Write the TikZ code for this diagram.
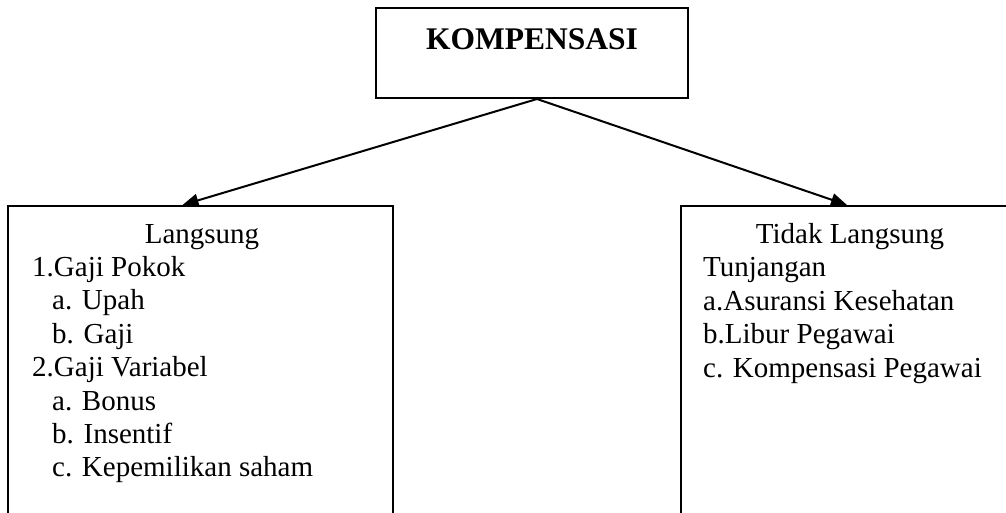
\documentclass[tikz,border=0pt]{standalone}
\usepackage{fontspec}
\setmainfont{Liberation Serif}
\usetikzlibrary{arrows.meta, positioning, calc}
\tikzset{
  box/.style={rectangle, draw=black, line width=2pt, inner sep=0pt},
  head/.style={anchor=base, inner sep=0pt, font=\fontsize{29}{33.5}\selectfont},
  item/.style={anchor=base west, inner sep=0pt, font=\fontsize{29}{33.5}\selectfont},
  arrow/.style={-{Triangle[length=16pt, width=13pt]}, line width=2pt}
}

\begin{document}
\begin{tikzpicture}[x=1pt, y=-1pt]
  \useasboundingbox (0,0) rectangle (1006,512);
  \clip (0,0) rectangle (1006,512);

  % Boxes
  \node[box, minimum width=312pt, minimum height=90pt] (komp) at (532,53) {};
  \node[box, minimum width=385pt, minimum height=330pt] (langsung) at (200.5,371) {};
  \node[box, minimum width=329pt, minimum height=330pt] (tidak) at (845.5,371) {};

  % Title
  \node[head, font=\bfseries\fontsize{31.5}{36}\selectfont] (kompT) at (532,49) {KOMPENSASI};

  % Langsung
  \node[head] (langT) at (202,243) {Langsung};
  \foreach \txt/\x [count=\i] in {1.Gaji Pokok/32, a. Upah/52, b. Gaji/52,
      2.Gaji Variabel/32, a. Bonus/52, b. Insentif/52, c. Kepemilikan saham/52}
    \node[item] (lang\i) at (\x,243+33.4*\i) {\txt};

  % Tidak Langsung
  \node[head] (tidakT) at (850,243) {Tidak Langsung};
  \foreach \txt [count=\i] in {Tunjangan, a.Asuransi Kesehatan, b.Libur Pegawai,
      c. Kompensasi Pegawai}
    \node[item] (tidak\i) at (703,243+33.5*\i) {\txt};

  % Arrows
  \coordinate (apex) at ($(komp.south)+(5,0)$);
  \coordinate (tipL) at ($(langsung.north)+(-18,0)$);
  \coordinate (tipR) at ($(tidak.north)+(1.5,0)$);
  \draw[arrow] (apex) -- (tipL);
  \draw[arrow] (apex) -- (tipR);
\end{tikzpicture}
\end{document}
